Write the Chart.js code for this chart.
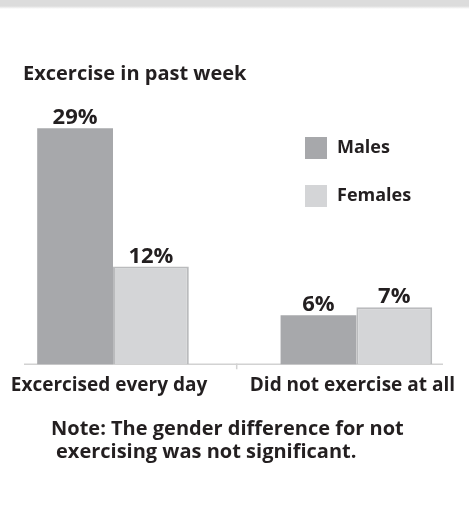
<!DOCTYPE html>
<html>
<head>
<meta charset="utf-8">
<script src="https://cdn.jsdelivr.net/npm/chart.js@4.4.1/dist/chart.umd.min.js"></script>
<style>
  body { margin: 0; background: #fff; }
  #wrap { position: relative; width: 469px; height: 508px; overflow: hidden; }
  #band { position: absolute; left: 0; top: 0; width: 469px; height: 9px;
          background: linear-gradient(#dcdcdc 0, #dcdcdc 6px, #fff 9px); }
  .txt { position: absolute; font-family: "Open Sans"; font-weight: bold; color: #231f20; white-space: nowrap; }
  #title { left: 23px; top: 60px; font-size: 20px; line-height: 26px; }
  #note { left: 51px; top: 416px; font-size: 20px; line-height: 23px; }
</style>
</head>
<body>
<div id="wrap">
  <canvas id="chart" width="469" height="508"></canvas>
  <div id="band"></div>
  <div id="title" class="txt">Excercise in past week</div>
  <div id="note" class="txt">Note: The gender difference for not<br><span style="padding-left:5px">exercising was not significant.</span></div>
</div>
<script>
var categories = ["Excercised every day", "Did not exercise at all"];
var males = [29, 6];
var females = [12, 7];
var seriesNames = ["Males", "Females"];

const ink = "#231f20";

// baseline, middle tick, value labels and legend
const overlay = {
  id: "overlay",
  beforeDatasetsDraw(chart) {
    const c = chart.ctx, x = chart.scales.x, y0 = chart.chartArea.bottom;
    c.save();
    c.strokeStyle = "#d2d2d2";
    c.lineWidth = 1.5;
    c.beginPath();
    c.moveTo(24, y0);
    c.lineTo(443, y0);
    const mid = (x.getPixelForValue(0) + x.getPixelForValue(1)) / 2 + 2;
    c.moveTo(mid, y0 - 1);
    c.lineTo(mid, y0 + 5);
    c.stroke();
    c.restore();
  },
  afterDatasetsDraw(chart) {
    const c = chart.ctx;
    c.save();
    c.fillStyle = ink;
    c.font = "bold 22px 'Open Sans'";
    c.textAlign = "center";
    c.textBaseline = "alphabetic";
    chart.data.datasets.forEach((ds, i) => {
      chart.getDatasetMeta(i).data.forEach((bar, j) => {
        c.fillText(ds.data[j] + "%", bar.x, bar.y - 4);
      });
    });
    // legend
    c.font = "bold 18px 'Open Sans'";
    c.textAlign = "left";
    c.textBaseline = "middle";
    chart.data.datasets.forEach((ds, i) => {
      const top = 137 + i * 48;
      c.fillStyle = ds.backgroundColor;
      c.fillRect(305, top, 22, 22);
      c.fillStyle = ink;
      c.fillText(ds.label, 337, top + 11);
    });
    c.restore();
  }
};

new Chart(document.getElementById("chart"), {
  type: "bar",
  data: {
    labels: categories,
    datasets: [
      { label: seriesNames[0], data: males, backgroundColor: "#a7a8ab", borderWidth: 0, clip: false },
      { label: seriesNames[1], data: females, backgroundColor: "#d4d5d7", borderColor: "#babbbd", borderWidth: 2, clip: false }
    ]
  },
  options: {
    responsive: false,
    animation: false,
    events: [],
    categoryPercentage: 0.623,
    barPercentage: 1,
    layout: { padding: { left: 113, right: 112, top: 120, bottom: 101 } },
    plugins: { legend: { display: false }, title: { display: false }, tooltip: { enabled: false } },
    scales: {
      x: {
        offset: false,
        grid: { display: false, drawTicks: false },
        border: { display: false },
        ticks: { color: ink, padding: 10, labelOffset: -4, font: { family: "Open Sans", weight: "bold", size: 19 } }
      },
      y: { display: false, min: 0, max: 30 }
    }
  },
  plugins: [overlay]
});
</script>
</body>
</html>
